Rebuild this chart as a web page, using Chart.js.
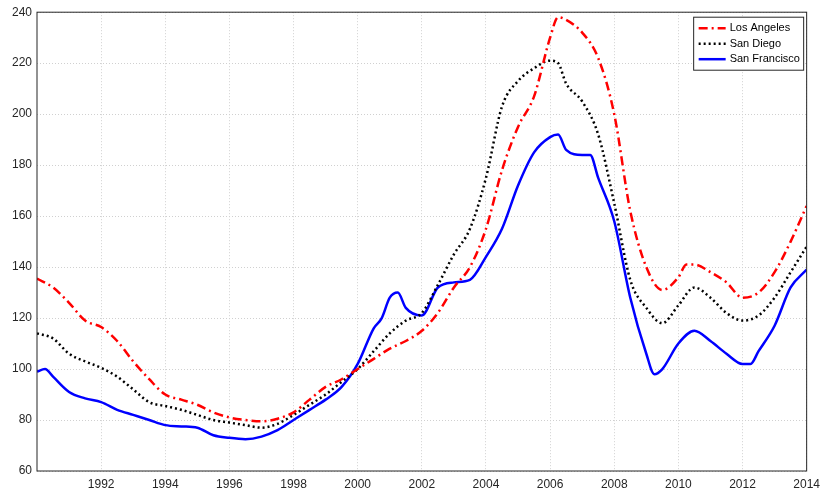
<!DOCTYPE html>
<html><head><script src="https://cdn.jsdelivr.net/npm/chart.js"></script>
<style>body{margin:0;background:#fff}</style></head>
<body><canvas id="c" width="826" height="490"></canvas>
<script>
const laX=[1990,1990.5,1991,1991.5,1992,1992.5,1993,1993.5,1994,1994.5,1995,1995.5,1996,1996.5,1997,1997.5,1998,1998.5,1999,1999.5,2000,2000.5,2001,2001.5,2002,2002.5,2003,2003.5,2004,2004.5,2005,2005.5,2006,2006.25,2006.5,2007,2007.5,2008,2008.5,2009,2009.5,2010,2010.25,2010.5,2011,2011.5,2012,2012.5,2013,2013.5,2014];
const laY=[135.5,132,126,119,116.5,111,103,96,90,88,86,83,81,80,79.5,80.5,83,88,93,96,100,104,108,111,115,122,132,140,155,178,195,207,230,238,237,232,222,200,162,140,131,136,141,141,138,134,128,130,138,150,164];
const sdX=[1990,1990.5,1991,1991.5,1992,1992.5,1993,1993.5,1994,1994.5,1995,1995.5,1996,1996.5,1997,1997.5,1998,1998.5,1999,1999.5,2000,2000.5,2001,2001.5,2002,2002.5,2003,2003.5,2004,2004.5,2005,2005.5,2006,2006.25,2006.5,2007,2007.5,2008,2008.5,2009,2009.5,2010,2010.5,2011,2011.5,2012,2012.5,2013,2013.5,2014];
const sdY=[114,112,106,103,100.5,97,92,87,85.5,84,82,80,79,78,77,78.5,82,86,90,95,100,107,114,119,122,133,145,155,175,203,213,218,221,220,212,205,192,165,135,124,118,125,132,128,122,119,121,128,138,148];
const sfX=[1990,1990.25,1990.5,1991,1991.5,1992,1992.5,1993,1993.5,1994,1994.5,1995,1995.5,1996,1996.5,1997,1997.5,1998,1998.5,1999,1999.5,2000,2000.5,2000.75,2001,2001.25,2001.5,2002,2002.5,2003,2003.5,2004,2004.5,2005,2005.5,2006,2006.25,2006.5,2007,2007.25,2007.5,2008,2008.5,2009,2009.25,2009.5,2010,2010.5,2011,2011.5,2012,2012.25,2012.5,2013,2013.5,2014];
const sfY=[99,100,97,91,88.5,87,84,82,80,78,77.5,77,74,73,72.5,73.5,76,80,84,88,93,102,116,120,128,130,124,121,132,134,135,144,155,172,185,191,192,186,184,184,175,158,128,106,98,100,110,115,111,106,102,102,107,117,132,139];
const xTicks=[1992,1994,1996,1998,2000,2002,2004,2006,2008,2010,2012,2014];
const pts=(xs,ys)=>xs.map((x,i)=>({x,y:ys[i]}));
const names=['Los Angeles','San Diego','San Francisco'];
const cols=['#ff0000','#000000','#0000ff'];
const dashes=[[9,4,2,4],[2,3],[]];
const frame={id:'frame',afterDraw(ch){const a=ch.chartArea,c=ch.ctx;c.save();c.strokeStyle='#262626';c.lineWidth=1;c.strokeRect(a.left,a.top,a.right-a.left,a.bottom-a.top);
const lx=a.right-113,ly=a.top+5,w=110,h=53;c.fillStyle='#fff';c.fillRect(lx,ly,w,h);c.strokeRect(lx,ly,w,h);
c.font='11px "Liberation Sans", Arial';c.textBaseline='middle';
names.forEach((n,i)=>{const y=ly+11+i*15.5;c.strokeStyle=cols[i];c.lineWidth=2.5;c.setLineDash(dashes[i]);c.beginPath();c.moveTo(lx+5,y);c.lineTo(lx+32,y);c.stroke();c.setLineDash([]);c.fillStyle='#000';c.fillText(n,lx+36,y);});
c.restore();}};
new Chart(document.getElementById('c'),{type:'line',
data:{datasets:[0,1,2].map(i=>({label:names[i],data:pts([laX,sdX,sfX][i],[laY,sdY,sfY][i]),borderColor:cols[i],borderDash:dashes[i],borderWidth:2.5,pointRadius:0,cubicInterpolationMode:'monotone',fill:false}))},
options:{responsive:false,animation:false,
layout:{padding:{left:0,right:14,top:10,bottom:0}},
plugins:{legend:{display:false},tooltip:{enabled:false}},
scales:{x:{type:'linear',min:1990,max:2014,afterBuildTicks(s){s.ticks=xTicks.map(v=>({value:v}));},afterFit(s){s.height=19;},
ticks:{color:'#262626',font:{size:12,family:'"Liberation Sans", Arial'},callback:v=>String(v),maxRotation:0,autoSkip:false,padding:6},
grid:{color:'#d0d0d0',drawTicks:false},border:{display:false,dash:[1,2]}},
y:{min:60,max:240,afterFit(s){s.width=37;},ticks:{stepSize:20,color:'#262626',font:{size:12,family:'"Liberation Sans", Arial'},padding:5},
grid:{color:'#d0d0d0',drawTicks:false},border:{display:false,dash:[1,2]}}}},
plugins:[frame]});
</script></body></html>
